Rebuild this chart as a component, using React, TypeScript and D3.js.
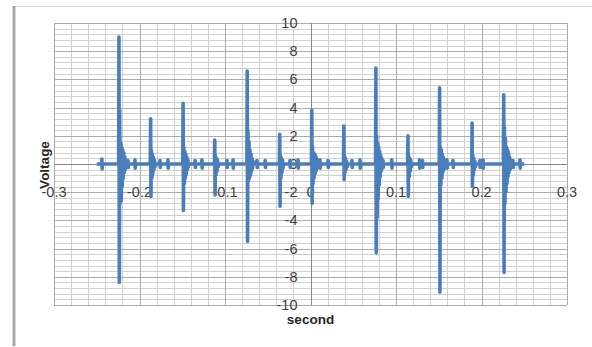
import React, { useEffect, useRef } from "react";
import { select, scaleLinear, line, range } from "d3";

const xTicks = [-0.3, -0.2, -0.1, 0, 0.1, 0.2, 0.3];
const yTicks = [-10, -8, -6, -4, -2, 0, 2, 4, 6, 8, 10];

// trace runs from -0.25 s to 0.25 s
const signalStart = -0.25;
const signalEnd = 0.25;

// each spike: onset time, top of the upward stroke, bottom of the downward stroke
const spikeTimes = [-0.224, -0.187, -0.149, -0.112, -0.074, -0.036, 0.0015, 0.039, 0.0765, 0.114, 0.151, 0.189, 0.226];
const spikePeaks = [9.0, 3.2, 4.3, 1.7, 6.6, 2.1, 3.8, 2.7, 6.8, 2.0, 5.4, 2.9, 4.9];
const spikeTroughs = [-8.4, -2.3, -3.3, -2.2, -5.5, -3.0, -2.8, -1.1, -6.3, -2.3, -9.1, -1.6, -7.7];

// ringing right after each spike, one sample every 0.6 ms
const spikeRinging = [
  [3.8, -2.8, 1.5, -2.6, 1.2, -1.6, 1.0, -1.0, 0.8, -0.6, 0.5, -0.4, 0.3, -0.2],
  [1.0, -1.0, 0.7, -0.7, 0.5, -0.4, 0.3, -0.2],
  [1.2, -1.4, 0.9, -1.0, 0.7, -0.7, 0.5, -0.4, 0.3, -0.2],
  [0.6, -0.8, 0.4, -0.5, 0.3, -0.2],
  [2.4, -1.2, 1.6, -1.0, 1.0, -0.8, 0.7, -0.5, 0.4, -0.3, 0.2],
  [0.6, -1.0, 0.4, -0.6, 0.3, -0.3],
  [1.2, -1.4, 0.8, -1.0, 0.7, -0.7, 0.6, -0.5, 0.4, -0.3, 0.3, -0.2],
  [0.6, -0.6, 0.4, -0.4, 0.2, -0.2],
  [2.0, -3.8, 1.5, -2.5, 1.2, -1.5, 0.9, -0.9, 0.6, -0.5, 0.4, -0.3],
  [0.6, -0.9, 0.4, -0.5, 0.3, -0.2],
  [1.2, -1.5, 1.0, -1.0, 0.7, -0.6, 0.5, -0.4, 0.3, -0.2],
  [0.6, -0.8, 0.4, -0.4, 0.2, -0.2],
  [2.6, -2.8, 1.8, -2.0, 1.2, -1.4, 1.0, -0.9, 0.8, -0.6, 0.5, -0.4, 0.3, -0.2],
];

// small blips on the baseline between spikes
const blipTimes = [
  -0.244, -0.2135, -0.2053, -0.176, -0.1667, -0.135, -0.127, -0.0977, -0.0906, -0.0626, -0.053,
  -0.024, -0.0146, 0.0111, 0.0205, 0.0485, 0.0579, 0.0848, 0.095, 0.1275, 0.131, 0.1596, 0.1667,
  0.1982, 0.2018, 0.2368, 0.245,
];
const blipSizes = [
  0.35, 0.25, 0.3, 0.25, 0.3, 0.25, 0.3, 0.25, 0.3, 0.25, 0.25,
  0.25, 0.3, 0.3, 0.25, 0.25, 0.3, 0.25, 0.3, 0.3, 0.25, 0.3, 0.25,
  0.25, 0.3, 0.25, 0.3,
];

const WIDTH = 592;
const HEIGHT = 347;
const plotLeft = 54;
const plotRight = 567;
const plotTop = 23;
const plotBottom = 305;

const buildTrace = () => {
  const events: { t: number; pts: [number, number][] }[] = [];
  spikeTimes.forEach((t, i) => {
    const pts: [number, number][] = [
      [t - 0.0004, 0],
      [t, spikePeaks[i]],
      [t + 0.0004, spikeTroughs[i]],
    ];
    spikeRinging[i].forEach((v, j) => pts.push([t + 0.0008 + j * 0.0006, v]));
    pts.push([t + 0.0008 + spikeRinging[i].length * 0.0006, 0]);
    events.push({ t, pts });
  });
  blipTimes.forEach((t, i) => {
    const s = blipSizes[i];
    events.push({
      t,
      pts: [
        [t - 0.0003, 0],
        [t, s],
        [t + 0.0003, -s],
        [t + 0.0006, 0],
      ],
    });
  });
  events.sort((a, b) => a.t - b.t);
  const trace: [number, number][] = [[signalStart, 0]];
  events.forEach((e) => trace.push(...e.pts));
  trace.push([signalEnd, 0]);
  return trace;
};

const App = () => {
  const svgRef = useRef<SVGSVGElement>(null);

  useEffect(() => {
    const svg = select(svgRef.current);
    svg.selectAll("*").remove();

    const xScale = scaleLinear().domain([-0.3, 0.3]).range([plotLeft, plotRight]);
    const yScale = scaleLinear().domain([-10, 10]).range([plotBottom, plotTop]);

    // outer chart frame
    svg.append("rect").attr("x", 0).attr("y", 0).attr("width", WIDTH).attr("height", HEIGHT).attr("fill", "#fff");
    svg.append("line").attr("x1", 14).attr("x2", WIDTH).attr("y1", 6.5).attr("y2", 6.5).attr("stroke", "#dadada");
    svg.append("line").attr("x1", 14).attr("x2", 14).attr("y1", 6).attr("y2", 346).attr("stroke", "#a8a8a8").attr("stroke-width", 3);

    const grid = svg.append("g");
    const xMinor = range(-15, 16).map((i) => i * 0.02);
    const yMinor = range(-25, 26).map((i) => i * 0.4);

    grid
      .selectAll(".vminor")
      .data(xMinor)
      .join("line")
      .attr("x1", (d) => Math.round(xScale(d)) + 0.5)
      .attr("x2", (d) => Math.round(xScale(d)) + 0.5)
      .attr("y1", plotTop)
      .attr("y2", plotBottom)
      .attr("stroke", "#d0d0d0");

    grid
      .selectAll(".hminor")
      .data(yMinor)
      .join("line")
      .attr("x1", plotLeft)
      .attr("x2", plotRight)
      .attr("y1", (d) => Math.round(yScale(d)) + 0.5)
      .attr("y2", (d) => Math.round(yScale(d)) + 0.5)
      .attr("stroke", "#d0d0d0");

    grid
      .selectAll(".vmajor")
      .data(xTicks)
      .join("line")
      .attr("x1", (d) => Math.round(xScale(d)) + 0.5)
      .attr("x2", (d) => Math.round(xScale(d)) + 0.5)
      .attr("y1", plotTop)
      .attr("y2", plotBottom)
      .attr("stroke", "#ababab");

    grid
      .selectAll(".hmajor")
      .data(yTicks)
      .join("line")
      .attr("x1", plotLeft)
      .attr("x2", plotRight)
      .attr("y1", (d) => Math.round(yScale(d)) + 0.5)
      .attr("y2", (d) => Math.round(yScale(d)) + 0.5)
      .attr("stroke", "#ababab");

    // axes through the origin
    svg
      .append("line")
      .attr("x1", Math.round(xScale(0)) + 0.5)
      .attr("x2", Math.round(xScale(0)) + 0.5)
      .attr("y1", plotTop)
      .attr("y2", plotBottom)
      .attr("stroke", "#868686");
    svg
      .append("line")
      .attr("x1", plotLeft)
      .attr("x2", plotRight)
      .attr("y1", Math.round(yScale(0)) + 0.5)
      .attr("y2", Math.round(yScale(0)) + 0.5)
      .attr("stroke", "#868686");

    const labels = svg
      .append("g")
      .attr("font-family", "Liberation Sans, Arial, sans-serif")
      .attr("font-size", 14.5)
      .attr("fill", "#404040");

    labels
      .selectAll(".ylab")
      .data(yTicks)
      .join("text")
      .attr("x", xScale(0) - 13)
      .attr("y", (d) => yScale(d))
      .attr("dy", "0.35em")
      .attr("text-anchor", "end")
      .text((d) => String(d));

    labels
      .selectAll(".xlab")
      .data(xTicks)
      .join("text")
      .attr("x", (d) => xScale(d))
      .attr("y", yScale(0) + 28)
      .attr("dy", "0.35em")
      .attr("text-anchor", "middle")
      .text((d) => String(d));

    const traceLine = line<[number, number]>()
      .x((d) => xScale(d[0]))
      .y((d) => yScale(d[1]));

    svg
      .append("path")
      .datum(buildTrace())
      .attr("fill", "none")
      .attr("stroke", "#4a7ebb")
      .attr("stroke-width", 3.6)
      .attr("stroke-linejoin", "round")
      .attr("d", traceLine);

    const titles = svg
      .append("g")
      .attr("font-family", "Liberation Sans, Arial, sans-serif")
      .attr("font-size", 13.5)
      .attr("font-weight", "bold")
      .attr("fill", "#262626");

    titles
      .append("text")
      .attr("transform", `translate(44,${yScale(0) + 1}) rotate(-90)`)
      .attr("dy", "0.35em")
      .attr("text-anchor", "middle")
      .text("Voltage");

    titles
      .append("text")
      .attr("x", xScale(0))
      .attr("y", 319)
      .attr("dy", "0.35em")
      .attr("text-anchor", "middle")
      .text("second");
  }, []);

  return (
    <svg
      ref={svgRef}
      width={WIDTH}
      height={HEIGHT}
      style={{ position: "absolute", left: 0, top: 0 }}
    />
  );
};

export default App;
